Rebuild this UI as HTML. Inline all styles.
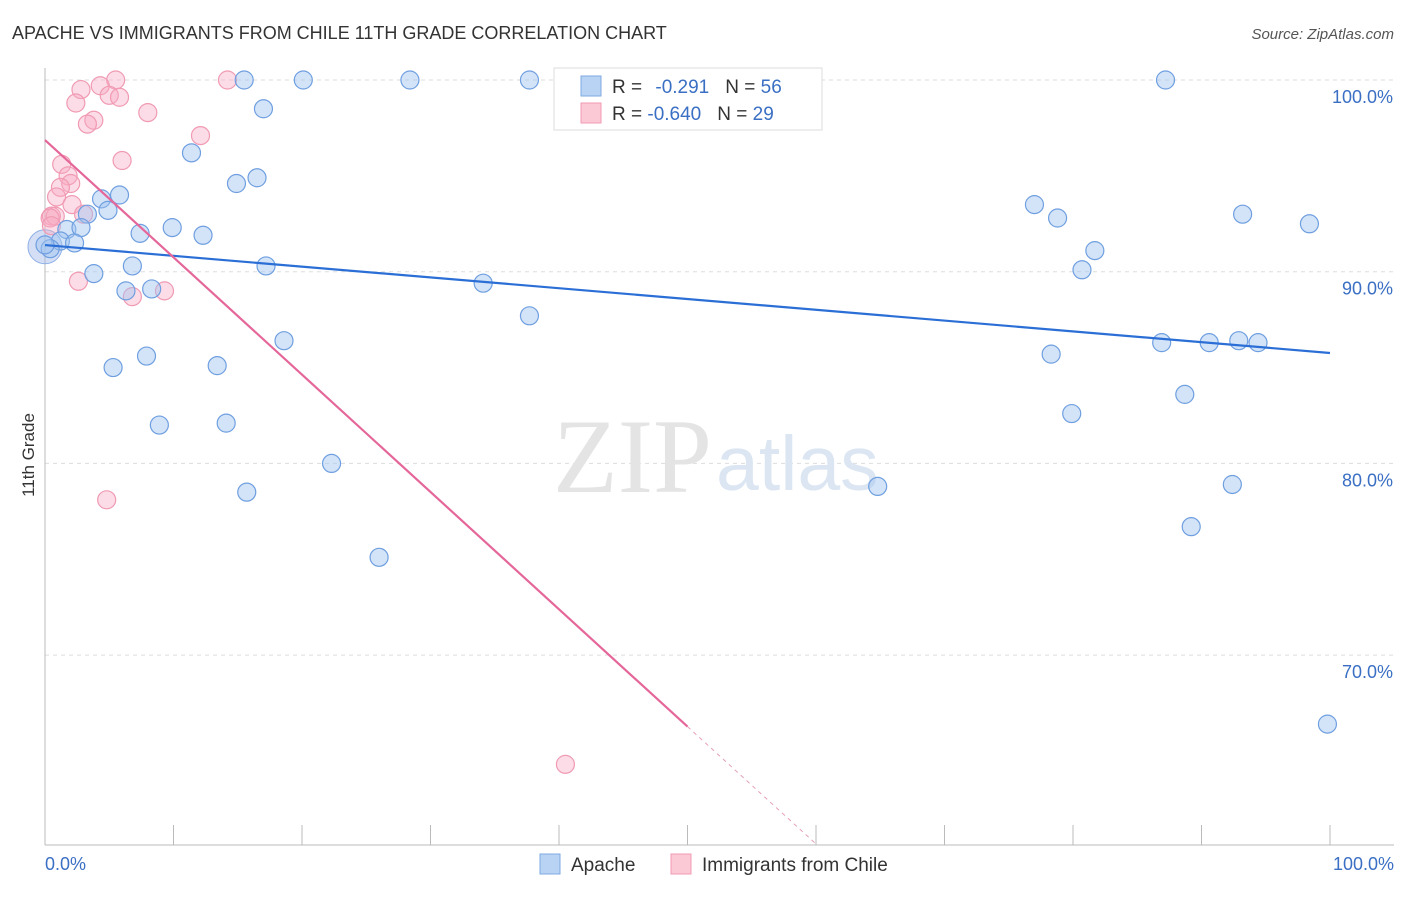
<!DOCTYPE html>
<html><head><meta charset="utf-8"><style>
body{margin:0;background:#fff;font-family:"Liberation Sans",sans-serif}
</style></head><body>
<svg width="1406" height="892" xmlns="http://www.w3.org/2000/svg">
<text x="12" y="39" font-size="18" fill="#333">APACHE VS IMMIGRANTS FROM CHILE 11TH GRADE CORRELATION CHART</text>
<text x="1394" y="39" font-size="15" fill="#555" font-style="italic" text-anchor="end">Source: ZipAtlas.com</text>
<g id="grid"></g>
<text x="553" y="492" font-size="106" fill="#e4e4e4" font-family="Liberation Serif,serif">ZIP</text>
<text x="716" y="490" font-size="77" fill="#dce6f3">atlas</text>
<g id="pts"></g>
<g id="lines"></g>
<text x="34" y="455" font-size="17" fill="#333" transform="rotate(-90 34 455)" text-anchor="middle">11th Grade</text>
<text x="45" y="870" font-size="18" fill="#3a6fc4">0.0%</text>
<text x="1394" y="870" font-size="18" fill="#3a6fc4" text-anchor="end">100.0%</text>
<g>
<rect x="554" y="68" width="268" height="62" fill="#fff" stroke="#ddd"/>
<rect x="581" y="76" width="20" height="20" fill="#b9d3f5" stroke="#7fa8e0"/>
<rect x="581" y="103" width="20" height="20" fill="#fbc8d6" stroke="#f09ab3"/>
<text x="612" y="93" font-size="19" fill="#333">R = <tspan fill="#3a6fc4" dx="8">-0.291</tspan><tspan dx="16" fill="#333">N = </tspan><tspan fill="#3a6fc4">56</tspan></text>
<text x="612" y="120" font-size="19" fill="#333">R = <tspan fill="#3a6fc4">-0.640</tspan><tspan dx="16" fill="#333">N = </tspan><tspan fill="#3a6fc4">29</tspan></text>
</g>
<g>
<rect x="540" y="854" width="20" height="20" fill="#b9d3f5" stroke="#7fa8e0"/>
<text x="571" y="871" font-size="19" fill="#333">Apache</text>
<rect x="671" y="854" width="20" height="20" fill="#fbc8d6" stroke="#f09ab3"/>
<text x="702" y="871" font-size="19" fill="#333">Immigrants from Chile</text>
</g>
</svg>
<script>
const yTicks=[100,90,80,70];
const yTickLabels=["100.0%","90.0%","80.0%","70.0%"];
const apacheX=[15.5,20.1,28.4,37.7,87.2,42.7,17.0,11.4,14.9,16.5,4.4,5.8,4.9,3.3,9.9,7.4,12.3,1.7,2.8,1.2,2.3,0.4,0,3.8,6.8,17.2,6.3,8.3,34.1,37.7,18.6,7.9,5.3,13.4,8.9,14.1,22.3,15.7,26.0,64.8,77.0,78.8,81.7,80.7,93.2,98.4,78.3,86.9,90.6,92.9,94.4,79.9,88.7,92.4,89.2,99.8];
const apacheY=[100,100,100,100,100,100,98.5,96.2,94.6,94.9,93.8,94.0,93.2,93.0,92.3,92.0,91.9,92.2,92.3,91.6,91.5,91.2,91.4,89.9,90.3,90.3,89.0,89.1,89.4,87.7,86.4,85.6,85.0,85.1,82.0,82.1,80.0,78.5,75.1,78.8,93.5,92.8,91.1,90.1,93.0,92.5,85.7,86.3,86.3,86.4,86.3,82.6,83.6,78.9,76.7,66.4];
const chileX=[14.2,5.5,4.3,2.8,5.0,5.8,2.4,8.0,3.8,3.3,12.1,6.0,1.3,1.8,2.0,1.2,0.9,2.1,3.0,0.5,0.8,0.4,0.5,2.6,6.8,9.3,4.8,40.5];
const chileY=[100,100,99.7,99.5,99.2,99.1,98.8,98.3,97.9,97.7,97.1,95.8,95.6,95.0,94.6,94.4,93.9,93.5,93.0,92.9,92.9,92.8,92.4,89.5,88.7,89.0,78.1,64.3];
const apacheTrend=[91.39,85.76];
const chileTrend=[96.87,-0.612];
const NS="http://www.w3.org/2000/svg";
const X=v=>45+v*12.85, Y=v=>80+(100-v)*19.17;
function mk(t,a,p){const e=document.createElementNS(NS,t);for(const k in a)e.setAttribute(k,a[k]);p.appendChild(e);return e;}
const g=document.getElementById('grid');
yTicks.forEach((t,i)=>{
 const l=mk('line',{x1:45,x2:1394,y1:Y(t),y2:Y(t),stroke:'#ddd','stroke-dasharray':'4,4'},g);
 
 
 const tx=mk('text',{x:1393,y:Y(t)+23,'font-size':18,fill:'#3a6fc4','text-anchor':'end'},g);
 tx.textContent=yTickLabels[i];
 
 
});
const ax=mk('line',{x1:45,x2:45,y1:68,y2:845,stroke:'#bbb'},g);


const bx=mk('line',{x1:45,x2:1394,y1:845,y2:845,stroke:'#bbb'},g);


for(let i=0;i<=10;i++){const tk=mk('line',{x1:X(i*10),x2:X(i*10),y1:825,y2:845,stroke:'#bbb'},g);
 
 }
const p=document.getElementById('pts');
const big=mk('circle',{cx:X(0),cy:Y(91.3),r:17,fill:'rgba(160,185,235,0.45)',stroke:'#8fb0e6','stroke-width':1},p);


chileX.forEach((v,i)=>{const c=mk('circle',{cx:X(v),cy:Y(chileY[i]),r:9,fill:'rgba(248,170,195,0.4)',stroke:'#f09ab3','stroke-width':1.2},p);
 
 });
apacheX.forEach((v,i)=>{const c=mk('circle',{cx:X(v),cy:Y(apacheY[i]),r:9,fill:'rgba(160,195,240,0.45)',stroke:'#6f9fe0','stroke-width':1.2},p);
 
 });
const L=document.getElementById('lines');
const a=mk('line',{x1:X(0),y1:Y(apacheTrend[0]),x2:X(100),y2:Y(apacheTrend[1]),stroke:'#2b6fd6','stroke-width':2.2},L);


const cy=x=>chileTrend[0]+chileTrend[1]*x;
const b=mk('line',{x1:X(0),y1:Y(cy(0)),x2:X(50),y2:Y(cy(50)),stroke:'#e5679a','stroke-width':2.2},L);


const d=mk('line',{x1:X(50),y1:Y(cy(50)),x2:X(60),y2:Y(cy(60)),stroke:'#e5a0b8','stroke-width':1,'stroke-dasharray':'4,4'},L);


</script>
</body></html>
